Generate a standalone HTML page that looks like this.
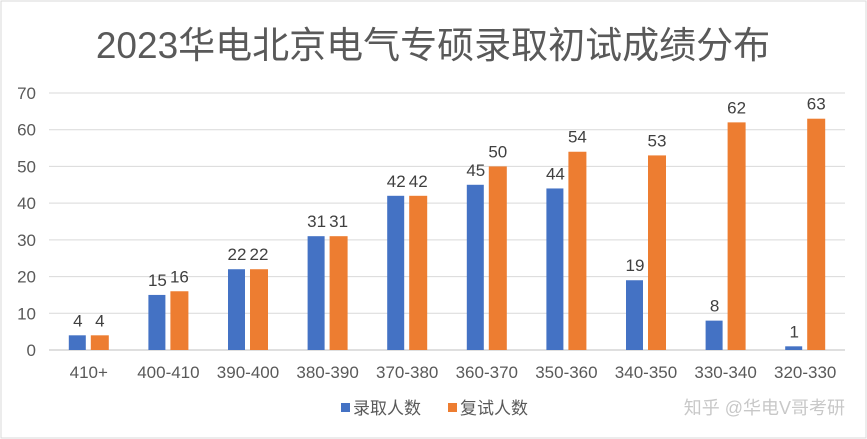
<!DOCTYPE html>
<html><head><meta charset="utf-8"><style>
body{margin:0;background:#fff;}
svg{display:block;font-family:"Liberation Sans","Noto Sans CJK SC",sans-serif;}
</style></head><body>
<svg id="c" width="867" height="439">
<rect x="1" y="1" width="865" height="437" fill="#fff" stroke="#d9d9d9"/>
<text x="433" y="58" font-size="37" fill="#595959" text-anchor="middle">2023华电北京电气专硕录取初试成绩分布</text>
<g id="grid"></g><g id="bars"></g><g id="labels"></g>
<g>
<rect x="341" y="403" width="9" height="9" fill="#4472c4"/>
<text x="353" y="414" font-size="17" fill="#595959">录取人数</text>
<rect x="448" y="403" width="9" height="9" fill="#ed7d31"/>
<text x="460" y="414" font-size="17" fill="#595959">复试人数</text>
</g>
<text x="845" y="414" font-size="18" fill="#c8c8c8" text-anchor="end">知乎 @华电V哥考研</text>
</svg>
<script>
const categories=["410+","400-410","390-400","380-390","370-380","360-370","350-360","340-350","330-340","320-330"];
const admitted=[4,15,22,31,42,45,44,19,8,1];
const retest=[4,16,22,31,42,50,54,53,62,63];
const yTicks=[0,10,20,30,40,50,60,70];
const NS="http://www.w3.org/2000/svg";
const x0=49,x1=845,y0=350,y1=93,yMax=70;
const bw=(x1-x0)/categories.length;
const y=v=>y0-(v/yMax)*(y0-y1);
const xc=i=>x0+bw*(i+0.5);
function mk(t,a,p){const e=document.createElementNS(NS,t);for(const k in a)e.setAttribute(k,a[k]);p.appendChild(e);return e;}
const g=document.getElementById('grid'),b=document.getElementById('bars'),l=document.getElementById('labels');
yTicks.forEach(t=>{
 const ln=mk('line',{x1:x0,x2:x1,y1:y(t),y2:y(t),stroke:t===0?'#bfbfbf':'#d9d9d9','stroke-width':1},g);
 
 
 const tx=mk('text',{x:36,y:y(t)+6,'font-size':17,fill:'#595959','text-anchor':'end'},g);
 tx.textContent=t;
 
 
});
categories.forEach((c,i)=>{
 const cx=xc(i);
 const r1=mk('rect',{x:cx-20,y:y(admitted[i]),width:17,height:y0-y(admitted[i]),fill:'#4472c4'},b);
 
 
 const r2=mk('rect',{x:cx+2,y:y(retest[i]),width:18,height:y0-y(retest[i]),fill:'#ed7d31'},b);
 
 
 const t1=mk('text',{x:cx-11,y:y(admitted[i])-9,'font-size':17,fill:'#404040','text-anchor':'middle'},l);
 t1.textContent=admitted[i];
 
 
 const t2=mk('text',{x:cx+11,y:y(retest[i])-9,'font-size':17,fill:'#404040','text-anchor':'middle'},l);
 t2.textContent=retest[i];
 
 
 const xl=mk('text',{x:cx,y:378,'font-size':17,fill:'#595959','text-anchor':'middle'},l);
 xl.textContent=c;
 
 
});
</script>
</body></html>
